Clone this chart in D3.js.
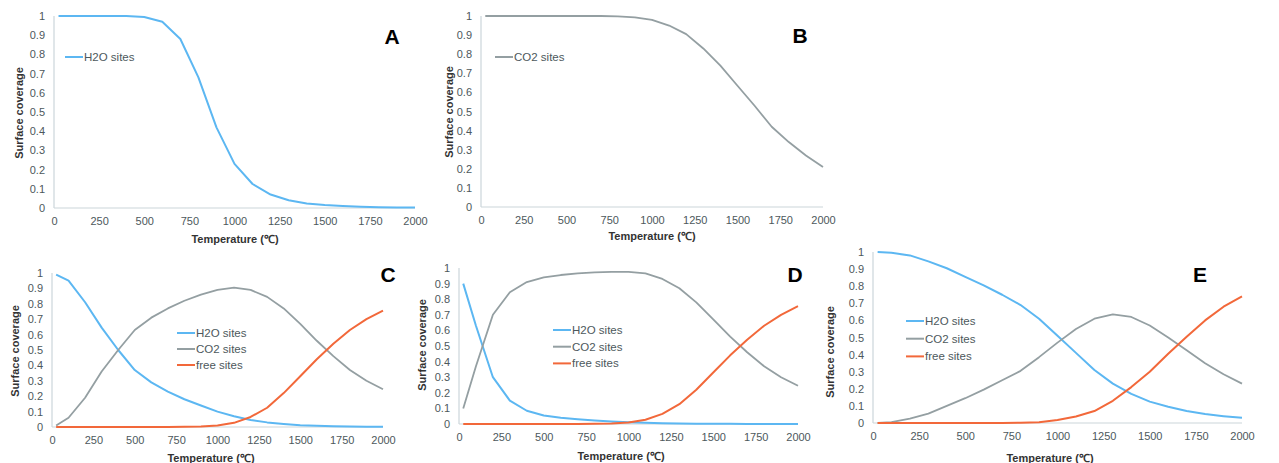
<!DOCTYPE html>
<html lang="en">
<head>
<meta charset="utf-8">
<title>Surface coverage vs temperature</title>
<style>
  body { margin: 0; background: #fff; }
  svg { display: block; font-family: "Liberation Sans", Arial, sans-serif; }
  .tick text { fill: #4d585c; font-size: 11px; }
  .axis-line { stroke: #cbd6da; stroke-width: 1.2; fill: none; }
  .ttl { font-weight: bold; font-size: 11px; fill: #333; text-anchor: middle; }
  .letter { font-weight: bold; font-size: 21px; fill: #000; text-anchor: middle; }
  .leg { font-size: 11.5px; fill: #4d585c; }
</style>
</head>
<body>
<svg id="chart" width="1279" height="463"></svg>
<script src="https://d3js.org/d3.v7.min.js"></script>
<script>
// temperatures (°C) of the computed points
var tempC = [25, 100, 200, 300, 400, 500, 600, 700, 800, 900, 1000,
             1100, 1200, 1300, 1400, 1500, 1600, 1700, 1800, 1900, 2000];
var xTicks = [0, 250, 500, 750, 1000, 1250, 1500, 1750, 2000];
var yTicks = [0, 0.1, 0.2, 0.3, 0.4, 0.5, 0.6, 0.7, 0.8, 0.9, 1];

// panel A
var aH2O = [1, 1, 1, 1, 1, 0.995, 0.97, 0.88, 0.68, 0.42, 0.23,
            0.125, 0.07, 0.04, 0.023, 0.015, 0.01, 0.006, 0.004, 0.003, 0.002];
// panel B
var bCO2 = [1, 1, 1, 1, 1, 1, 1, 1, 0.998, 0.993, 0.98,
            0.95, 0.905, 0.83, 0.74, 0.635, 0.53, 0.42, 0.34, 0.27, 0.21];
// panel C
var cH2O = [0.99, 0.95, 0.81, 0.645, 0.5, 0.37, 0.29, 0.23, 0.18, 0.14, 0.1,
            0.07, 0.045, 0.03, 0.02, 0.012, 0.008, 0.005, 0.003, 0.002, 0.001];
var cCO2 = [0.01, 0.06, 0.19, 0.36, 0.5, 0.63, 0.71, 0.77, 0.82, 0.86, 0.89,
            0.905, 0.89, 0.845, 0.77, 0.67, 0.56, 0.46, 0.37, 0.3, 0.245];
var cFree = [0, 0, 0, 0, 0, 0, 0, 0, 0.001, 0.003, 0.01,
             0.027, 0.065, 0.125, 0.22, 0.33, 0.44, 0.54, 0.63, 0.7, 0.755];
// panel D
var dH2O = [0.9, 0.63, 0.3, 0.15, 0.085, 0.055, 0.04, 0.03, 0.022, 0.016, 0.012,
            0.008, 0.005, 0.003, 0.002, 0.001, 0.001, 0, 0, 0, 0];
var dCO2 = [0.1, 0.37, 0.7, 0.845, 0.91, 0.94, 0.955, 0.965, 0.972, 0.975, 0.975,
            0.965, 0.93, 0.87, 0.78, 0.67, 0.56, 0.46, 0.37, 0.3, 0.245];
var dFree = [0, 0, 0, 0, 0, 0, 0, 0, 0.001, 0.003, 0.01,
             0.027, 0.065, 0.127, 0.22, 0.33, 0.44, 0.54, 0.63, 0.7, 0.755];
// panel E
var eH2O = [1, 0.995, 0.98, 0.945, 0.905, 0.855, 0.805, 0.75, 0.69, 0.61, 0.51,
            0.41, 0.31, 0.23, 0.17, 0.125, 0.095, 0.07, 0.052, 0.04, 0.03];
var eCO2 = [0, 0.005, 0.025, 0.055, 0.1, 0.145, 0.195, 0.25, 0.305, 0.385, 0.47,
            0.55, 0.61, 0.635, 0.62, 0.57, 0.5, 0.425, 0.35, 0.285, 0.23];
var eFree = [0, 0, 0, 0, 0, 0, 0, 0, 0.001, 0.005, 0.017,
             0.038, 0.07, 0.13, 0.21, 0.3, 0.405, 0.505, 0.6, 0.68, 0.74];

var COL = { h2o: "#5cb7f2", co2: "#949fa2", free: "#f2683a" };
var NAME = { h2o: "H2O sites", co2: "CO2 sites", free: "free sites" };

// layout of each panel: plot box, title / letter / legend positions
var panels = [
  { letter: "A", x0: 54, x1: 415, y0: 16, y1: 208, xt: [235, 239], yt: [19, 113], lt: [392, 37],
    leg: [65, 57], legDy: 16, series: [["h2o", aH2O]] },
  { letter: "B", x0: 481, x1: 823, y0: 16, y1: 207, xt: [652, 236], yt: [449, 112], lt: [800, 36],
    leg: [495, 57], legDy: 16, series: [["co2", bCO2]] },
  { letter: "C", x0: 52, x1: 383, y0: 273, y1: 427, xt: [211, 458], yt: [15, 351], lt: [388, 275],
    leg: [177, 333], legDy: 16, series: [["h2o", cH2O], ["co2", cCO2], ["free", cFree]] },
  { letter: "D", x0: 459, x1: 798, y0: 268, y1: 424, xt: [621, 456], yt: [422, 345], lt: [795, 275],
    leg: [553, 330], legDy: 16.7, series: [["h2o", dH2O], ["co2", dCO2], ["free", dFree]] },
  { letter: "E", x0: 873, x1: 1242, y0: 252, y1: 423, xt: [1050, 458], yt: [830, 352], lt: [1200, 275],
    leg: [906, 321], legDy: 17.7, series: [["h2o", eH2O], ["co2", eCO2], ["free", eFree]] }
];

var svg = d3.select("#chart");

panels.forEach(function (p) {
  var x = d3.scaleLinear().domain([0, 2000]).range([p.x0, p.x1]);
  var y = d3.scaleLinear().domain([0, 1]).range([p.y1, p.y0]);
  var g = svg.append("g");

  // x axis (labels only, plus a light baseline)
  var xa = g.append("g")
    .attr("transform", "translate(0," + p.y1 + ")")
    .call(d3.axisBottom(x).tickValues(xTicks).tickSize(0).tickPadding(9).tickFormat(d3.format("d")));
  xa.select(".domain").remove();

  var ya = g.append("g")
    .attr("transform", "translate(" + p.x0 + ",0)")
    .call(d3.axisLeft(y).tickValues(yTicks).tickSize(0).tickPadding(9).tickFormat(function (d) { return d3.format("~g")(d); }));
  ya.select(".domain").remove();

  g.append("line").attr("class", "axis-line")
    .attr("x1", p.x0).attr("x2", p.x1).attr("y1", p.y1).attr("y2", p.y1);
  g.append("line").attr("class", "axis-line")
    .attr("x1", p.x0).attr("x2", p.x0).attr("y1", p.y0).attr("y2", p.y1);

  var line = d3.line()
    .x(function (d, i) { return x(tempC[i]); })
    .y(function (d) { return y(d); });

  p.series.forEach(function (s) {
    g.append("path")
      .attr("d", line(s[1]))
      .attr("fill", "none")
      .attr("stroke", COL[s[0]])
      .attr("stroke-width", s[0] == "co2" ? 1.8 : 2)
      .attr("stroke-linejoin", "round");
  });

  // legend
  p.series.forEach(function (s, i) {
    var ly = p.leg[1] + i * p.legDy;
    g.append("line")
      .attr("x1", p.leg[0]).attr("x2", p.leg[0] + 18)
      .attr("y1", ly).attr("y2", ly)
      .attr("stroke", COL[s[0]]).attr("stroke-width", 2);
    g.append("text").attr("class", "leg")
      .attr("x", p.leg[0] + 19).attr("y", ly).attr("dy", "0.35em")
      .text(NAME[s[0]]);
  });

  g.append("text").attr("class", "ttl")
    .attr("x", p.xt[0]).attr("y", p.xt[1]).attr("dy", "0.35em")
    .text("Temperature (\u2103)");
  g.append("text").attr("class", "ttl")
    .attr("transform", "translate(" + p.yt[0] + "," + p.yt[1] + ") rotate(-90)")
    .attr("dy", "0.35em")
    .text("Surface coverage");
  g.append("text").attr("class", "letter")
    .attr("x", p.lt[0]).attr("y", p.lt[1]).attr("dy", "0.35em")
    .text(p.letter);
});
</script>
</body>
</html>
